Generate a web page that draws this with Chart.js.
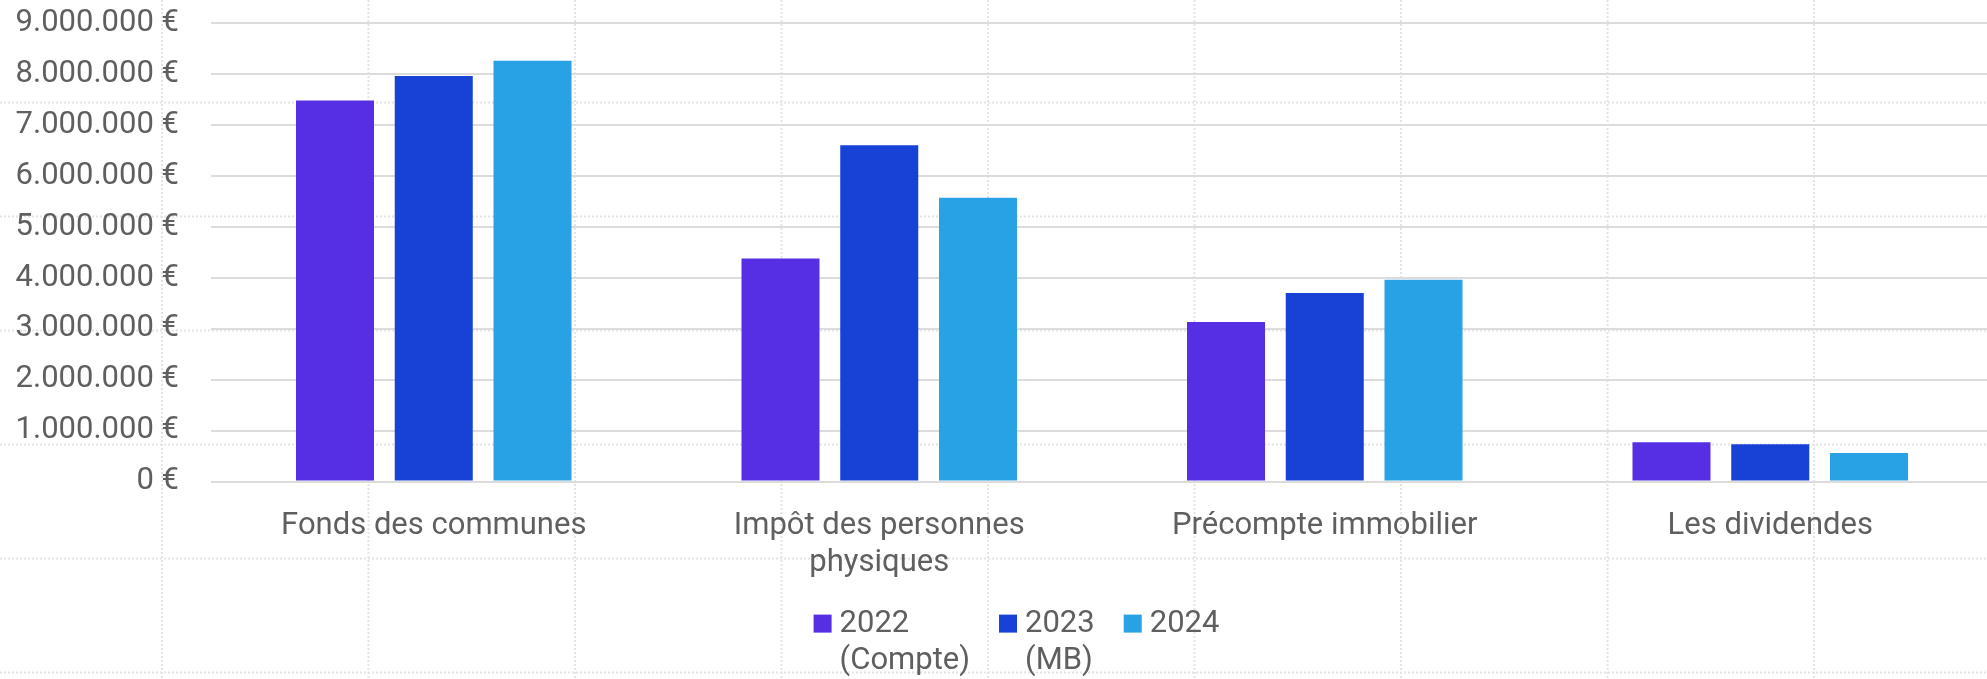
<!DOCTYPE html>
<html>
<head>
<meta charset="utf-8">
<script src="https://cdn.jsdelivr.net/npm/chart.js@4.4.1/dist/chart.umd.min.js"></script>
<style>
  html, body { margin: 0; padding: 0; background: #fff; overflow: hidden; }
  #wrap { width: 1993px; height: 679px; }
</style>
</head>
<body>
<div id="wrap"><canvas id="chart"></canvas></div>
<script>
// Data
const categories = ["Fonds des communes", ["Impôt des personnes", "physiques"], "Précompte immobilier", "Les dividendes"];
const seriesLabels = [["2022", "(Compte)"], ["2023", "(MB)"], ["2024"]];
const values2022 = [7480000, 4380000, 3130000, 770000];
const values2023 = [7960000, 6600000, 3700000, 735000];
const values2024 = [8260000, 5570000, 3960000, 560000];
const yMax = 9000000;
const yStep = 1000000;

const seriesColors = ["#562FE5", "#1841D5", "#28A1E5"];
const textColor = "#5f5f5f";
const font = { family: "Roboto", size: 31 };

// 1.000.000 €
let euro = (v) => String(v).replace(/\B(?=(\d{3})+(?!\d))/g, ".") + " €";

// Power BI canvas grid behind the visual
const pageGrid = {
    id: "pageGrid",
    beforeDraw(chart) {
        const ctx = chart.ctx;
        ctx.save();
        ctx.strokeStyle = "#e4e4e4";
        ctx.lineWidth = 2;
        ctx.setLineDash([2, 2]);
        for (let x = 162; x < chart.width; x += 206.5) {
            ctx.beginPath(); ctx.moveTo(x, 0); ctx.lineTo(x, chart.height); ctx.stroke();
        }
        for (let y = 102.5; y < chart.height; y += 114) {
            ctx.beginPath(); ctx.moveTo(0, y); ctx.lineTo(chart.width, y); ctx.stroke();
        }
        ctx.restore();
    }
};

// Legend with wrapped labels (the built-in one measures arrays as one string)
const wrappedLegend = {
    id: "wrappedLegend",
    afterDraw(chart) {
        const ctx = chart.ctx;
        const box = 18, gap = 8, spacing = 29, lineH = 37;
        ctx.save();
        ctx.font = `${font.size}px ${font.family}`;
        ctx.textBaseline = "middle";
        ctx.textAlign = "left";
        const items = chart.data.datasets.map(ds => {
            const lines = [].concat(ds.label);
            const w = Math.max(...lines.map(l => ctx.measureText(l).width));
            return { lines, w, color: ds.backgroundColor };
        });
        const total = items.reduce((a, it) => a + box + gap + it.w, 0) + spacing * (items.length - 1);
        let x = (chart.width - total) / 2 + 20;
        const y = chart.chartArea.bottom + 143;
        for (let it of items) {
            ctx.fillStyle = it.color;
            ctx.fillRect(x, y - 10, box, box);
            ctx.fillStyle = textColor;
            it.lines.forEach((l, i) => ctx.fillText(l, x + box + gap, y + i * lineH));
            x += box + gap + it.w + spacing;
        }
        ctx.restore();
    }
};

new Chart(document.getElementById("chart"), {
    type: "bar",
    data: {
        labels: categories,
        datasets: [
            { label: seriesLabels[0], data: values2022, backgroundColor: seriesColors[0] },
            { label: seriesLabels[1], data: values2023, backgroundColor: seriesColors[1] },
            { label: seriesLabels[2], data: values2024, backgroundColor: seriesColors[2] }
        ]
    },
    plugins: [pageGrid, wrappedLegend],
    options: {
        responsive: true,
        maintainAspectRatio: false,
        animation: false,
        layout: { padding: { top: 23, left: 0, right: 0, bottom: 79 } },
        datasets: { bar: { categoryPercentage: 0.665, barPercentage: 0.79 } },
        plugins: {
            legend: { display: false },
            tooltip: { enabled: false }
        },
        scales: {
            x: {
                grid: { display: false },
                border: { display: false },
                ticks: { color: textColor, font: font, padding: 18, maxRotation: 0, autoSkip: false }
            },
            y: {
                min: 0,
                max: yMax,
                grid: { color: "#dcdcdc", lineWidth: 2, drawTicks: false },
                border: { display: false },
                ticks: { stepSize: yStep, padding: 32, color: textColor, font: font, callback: euro },
                afterFit: (s) => { s.width = 211; s.paddingTop = 0; s.paddingBottom = 0; }
            }
        }
    }
});
</script>
</body>
</html>
